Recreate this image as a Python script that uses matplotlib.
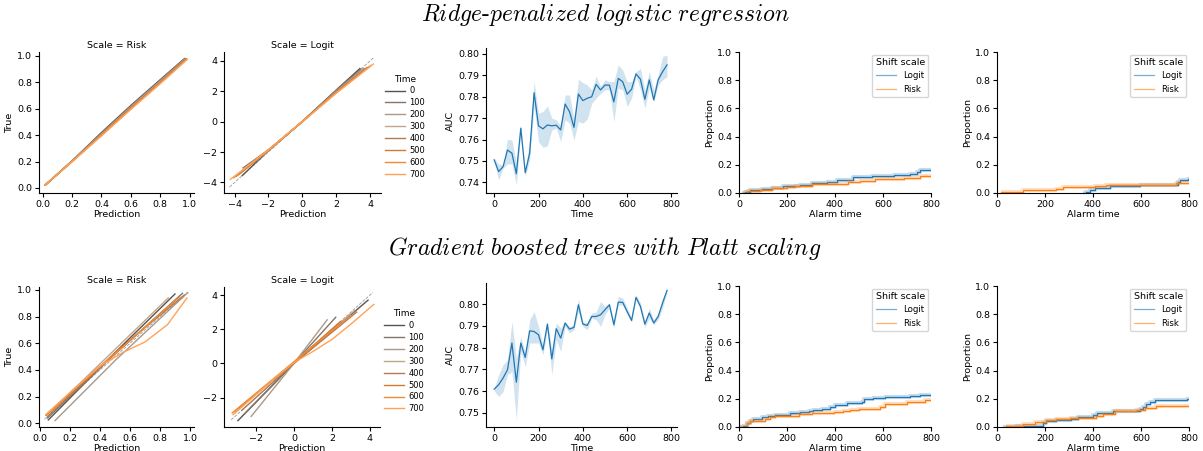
"""Calibration, AUC and alarm-time panels for two models, one row each."""

import matplotlib

matplotlib.use("Agg")
import matplotlib.pyplot as plt

plt.rcParams["font.family"] = ["DejaVu Sans"]
plt.rcParams["mathtext.fontset"] = "cm"
plt.rcParams["axes.linewidth"] = 0.8

W, H = 1203, 451

# ---- data -----------------------------------------------------------------
TIMES = ["0", "100", "200", "300", "400", "500", "600", "700"]
TIME_COLORS = ["#5a524c", "#857466", "#a8998a", "#c2a68c",
               "#b57a4e", "#cf7b36", "#f08a35", "#ffa257"]

# Ridge-penalized logistic regression: calibration curves (one list per time)
TOP_RISK_X = [
    [0.02, 0.2, 0.4, 0.6, 0.8, 0.965],
    [0.02, 0.2, 0.4, 0.6, 0.8, 0.97],
    [0.02, 0.2, 0.4, 0.6, 0.8, 0.97],
    [0.02, 0.2, 0.4, 0.6, 0.8, 0.975],
    [0.02, 0.2, 0.4, 0.6, 0.8, 0.975],
    [0.015, 0.2, 0.4, 0.6, 0.8, 0.98],
    [0.015, 0.2, 0.4, 0.6, 0.8, 0.98],
    [0.015, 0.2, 0.4, 0.6, 0.8, 0.985],
]
TOP_RISK_Y = [
    [0.025, 0.205, 0.42, 0.625, 0.82, 0.98],
    [0.025, 0.205, 0.415, 0.62, 0.815, 0.98],
    [0.025, 0.204, 0.41, 0.615, 0.81, 0.978],
    [0.024, 0.203, 0.405, 0.61, 0.805, 0.978],
    [0.024, 0.202, 0.402, 0.607, 0.8, 0.977],
    [0.022, 0.2, 0.4, 0.603, 0.797, 0.976],
    [0.022, 0.2, 0.398, 0.6, 0.793, 0.975],
    [0.022, 0.2, 0.395, 0.595, 0.79, 0.975],
]
TOP_LOGIT_X = [
    [-3.55, -2, 0, 2, 3.4],
    [-3.5, -2, 0, 2, 3.45],
    [-3.6, -2, 0, 2, 3.6],
    [-3.7, -2, 0, 2, 3.7],
    [-3.8, -2, 0, 2, 3.8],
    [-3.9, -2, 0, 2, 3.9],
    [-4.05, -2, 0, 2, 4.05],
    [-4.25, -2, 0, 2, 4.2],
]
TOP_LOGIT_Y = [
    [-3.55, -1.9, 0.02, 2.08, 3.5],
    [-3.05, -1.85, 0.0, 2.05, 3.45],
    [-3.3, -1.9, 0.0, 2.0, 3.5],
    [-3.45, -1.9, 0.0, 1.98, 3.5],
    [-3.5, -1.88, 0.0, 1.95, 3.55],
    [-3.6, -1.87, 0.0, 1.92, 3.6],
    [-3.7, -1.86, 0.0, 1.9, 3.7],
    [-3.8, -1.85, 0.0, 1.87, 3.8],
]

# Gradient boosted trees with Platt scaling: calibration curves
BOT_RISK_X = [
    [0.055, 0.5, 0.9],
    [0.05, 0.5, 0.95],
    [0.10, 0.5, 0.985],
    [0.045, 0.45, 0.855],
    [0.05, 0.5, 0.96],
    [0.04, 0.5, 0.93],
    [0.04, 0.3, 0.6, 0.91],
    [0.04, 0.2, 0.4, 0.55, 0.7, 0.85, 0.98],
]
BOT_RISK_Y = [
    [0.025, 0.53, 0.97],
    [0.04, 0.52, 0.975],
    [0.02, 0.47, 0.98],
    [0.06, 0.5, 0.94],
    [0.05, 0.53, 0.96],
    [0.06, 0.52, 0.95],
    [0.065, 0.33, 0.62, 0.93],
    [0.065, 0.23, 0.43, 0.53, 0.61, 0.74, 0.94],
]
BOT_LOGIT_X = [
    [-2.95, 0, 3.9],
    [-2.6, 0, 2.2],
    [-2.25, 0, 1.75],
    [-3.1, 0, 3.2],
    [-2.75, 0, 3.3],
    [-2.9, 0, 2.45],
    [-3.25, 0, 3.0],
    [-3.2, -1, 0, 1, 2, 3, 4.2],
]
BOT_LOGIT_Y = [
    [-3.35, 0.0, 3.7],
    [-2.95, 0.0, 2.7],
    [-3.1, 0.0, 2.55],
    [-2.85, 0.05, 3.1],
    [-2.75, 0.0, 3.0],
    [-2.6, 0.05, 2.45],
    [-2.9, 0.1, 2.8],
    [-3.0, -0.85, 0.05, 0.7, 1.4, 2.3, 3.45],
]

AUC_TIME = [0, 20, 40, 60, 80, 100, 120, 140, 160, 180, 200, 220, 240, 260,
            280, 300, 320, 340, 360, 380, 400, 420, 440, 460, 480, 500, 520,
            540, 560, 580, 600, 620, 640, 660, 680, 700, 720, 740, 760, 780]
TOP_AUC = [0.7505, 0.745, 0.7473, 0.7551, 0.7536, 0.744, 0.7653, 0.7445,
           0.7536, 0.7819, 0.7664, 0.765, 0.7668, 0.7664, 0.7667, 0.7645,
           0.7766, 0.773, 0.7657, 0.7813, 0.7782, 0.7793, 0.780, 0.7858,
           0.7832, 0.7855, 0.7854, 0.7776, 0.7886, 0.787, 0.7812, 0.7835,
           0.7907, 0.7882, 0.7788, 0.7879, 0.7785, 0.7879, 0.7917, 0.7949]
TOP_AUC_LO = [0.7497, 0.7411, 0.7466, 0.7486, 0.7486, 0.7388, 0.7637, 0.7427,
              0.7505, 0.7754, 0.759, 0.7564, 0.757, 0.7645, 0.7653, 0.759,
              0.7692, 0.7676, 0.7598, 0.7684, 0.7676, 0.7695, 0.7769, 0.7793,
              0.7816, 0.7832, 0.7832, 0.7684, 0.784, 0.7832, 0.7754, 0.7793,
              0.7894, 0.7832, 0.7746, 0.784, 0.7777, 0.7855, 0.7879, 0.7894]
TOP_AUC_HI = [0.7512, 0.7486, 0.7481, 0.7601, 0.7598, 0.7489, 0.7668, 0.7458,
              0.7598, 0.7871, 0.7723, 0.7731, 0.7757, 0.770, 0.7692, 0.7664,
              0.7808, 0.7808, 0.770, 0.7882, 0.7866, 0.7855, 0.7832, 0.7897,
              0.7847, 0.7879, 0.7871, 0.7871, 0.7949, 0.7925, 0.7871, 0.7871,
              0.7917, 0.7933, 0.7832, 0.7917, 0.7832, 0.7902, 0.7988, 0.7995]
BOT_AUC = [0.7609, 0.7629, 0.766, 0.7698, 0.7821, 0.7641, 0.7821, 0.7755,
           0.7877, 0.7874, 0.7859, 0.779, 0.7908, 0.7748, 0.7887, 0.7844,
           0.7913, 0.7885, 0.7893, 0.7997, 0.7908, 0.7902, 0.7943, 0.7943,
           0.7951, 0.7974, 0.7997, 0.7905, 0.8009, 0.8008, 0.7966, 0.7925,
           0.8031, 0.7989, 0.7908, 0.7959, 0.7913, 0.7943, 0.8005, 0.8063]
BOT_AUC_LO = [0.7601, 0.7575, 0.7598, 0.7675, 0.769, 0.7468, 0.7782, 0.7713,
              0.7821, 0.7821, 0.7821, 0.7767, 0.7882, 0.7675, 0.7836, 0.7782,
              0.7897, 0.7867, 0.7882, 0.7966, 0.7897, 0.7882, 0.7936, 0.7928,
              0.7897, 0.7951, 0.7982, 0.789, 0.7997, 0.7994, 0.7951, 0.7917,
              0.802, 0.7974, 0.7893, 0.7936, 0.7905, 0.7928, 0.7982, 0.8055]
BOT_AUC_HI = [0.7614, 0.7675, 0.7721, 0.7744, 0.792, 0.7752, 0.7851, 0.7775,
              0.7928, 0.7966, 0.7897, 0.7813, 0.792, 0.779, 0.7913, 0.789,
              0.792, 0.7897, 0.7905, 0.8025, 0.792, 0.7913, 0.7959, 0.7963,
              0.8012, 0.7989, 0.8005, 0.792, 0.8035, 0.8028, 0.7982, 0.7936,
              0.8043, 0.8005, 0.7923, 0.7982, 0.7928, 0.7959, 0.8028, 0.807]

# alarm-time step curves (time of step, proportion after the step)
TOP_A_LOGIT_T = [11, 25, 46, 95, 136, 185, 254, 303, 366, 407, 477, 553, 644, 714, 741, 755, 800]
TOP_A_LOGIT_P = [0.0, 0.01, 0.019, 0.026, 0.038, 0.047, 0.054, 0.071, 0.078, 0.09, 0.113, 0.12, 0.13, 0.137, 0.149, 0.161, 0.161]
TOP_A_RISK_T = [18, 32, 88, 136, 199, 234, 303, 407, 456, 505, 567, 686, 755, 800]
TOP_A_RISK_P = [0.0, 0.014, 0.019, 0.035, 0.043, 0.052, 0.061, 0.066, 0.076, 0.085, 0.097, 0.109, 0.123, 0.123]
TOP_B_LOGIT_T = [358, 372, 386, 407, 469, 594, 754, 761, 796, 800]
TOP_B_LOGIT_P = [0.0, 0.01, 0.019, 0.035, 0.05, 0.06, 0.075, 0.09, 0.10, 0.10]
TOP_B_RISK_T = [18, 108, 247, 275, 407, 455, 747, 800]
TOP_B_RISK_P = [0.01, 0.02, 0.03, 0.045, 0.05, 0.06, 0.07, 0.07]

BOT_A_LOGIT_T = [4, 18, 32, 46, 60, 95, 122, 150, 213, 255, 290, 310, 345, 380, 400, 450, 512, 519, 560, 610, 714, 755, 800]
BOT_A_LOGIT_P = [0.0, 0.007, 0.03, 0.043, 0.057, 0.069, 0.081, 0.088, 0.10, 0.107, 0.114, 0.121, 0.126, 0.143, 0.157, 0.167, 0.179, 0.2, 0.207, 0.214, 0.221, 0.229, 0.231]
BOT_A_RISK_T = [4, 35, 46, 108, 130, 150, 206, 248, 303, 394, 435, 463, 498, 588, 610, 700, 776, 800]
BOT_A_RISK_P = [0.0, 0.029, 0.04, 0.06, 0.071, 0.079, 0.081, 0.09, 0.10, 0.107, 0.114, 0.119, 0.131, 0.143, 0.16, 0.179, 0.188, 0.188]
BOT_B_LOGIT_T = [25, 80, 191, 205, 247, 310, 337, 400, 417, 483, 594, 608, 622, 636, 657, 790, 800]
BOT_B_LOGIT_P = [0.0, 0.01, 0.031, 0.043, 0.052, 0.06, 0.071, 0.083, 0.10, 0.114, 0.129, 0.14, 0.162, 0.179, 0.19, 0.202, 0.202]
BOT_B_RISK_T = [39, 108, 157, 205, 247, 303, 414, 442, 490, 580, 615, 664, 800]
BOT_B_RISK_P = [0.01, 0.019, 0.033, 0.052, 0.057, 0.067, 0.081, 0.095, 0.11, 0.119, 0.136, 0.15, 0.157]

BLUE = "#1f77b4"
ORANGE = "#ff7f0e"
LABEL_FS = 6.8
TICK_FS = 6.8


def _rect(left, top, right, bottom):
    return [left / W, 1 - bottom / H, (right - left) / W, (bottom - top) / H]


def _style(ax):
    for side in ("top", "right"):
        ax.spines[side].set_visible(False)
    ax.tick_params(labelsize=TICK_FS, length=3, width=0.8, pad=2)


def _draw_calibration(ax, xs, ys, title, diag, xlim, ylim, ticks_x, ticks_y, ylabel=None):
    ax.plot(diag, diag, color="0.6", linestyle="--", linewidth=0.6, zorder=1)
    for x, y, c in zip(xs, ys, TIME_COLORS):
        ax.plot(x, y, color=c, linewidth=1.0, zorder=2)
    ax.set_xlim(*xlim)
    ax.set_ylim(*ylim)
    ax.set_xticks(ticks_x)
    ax.set_yticks(ticks_y)
    ax.set_title(title, fontsize=LABEL_FS, pad=3)
    ax.set_xlabel("Prediction", fontsize=LABEL_FS, labelpad=1)
    if ylabel:
        ax.set_ylabel(ylabel, fontsize=LABEL_FS, labelpad=2)
    _style(ax)


def _time_legend(ax, y_anchor):
    handles = [plt.Line2D([], [], color=c, linewidth=1.0) for c in TIME_COLORS]
    ax.legend(handles, TIMES, title="Time", loc="center left",
              bbox_to_anchor=(0.98, y_anchor), frameon=False, fontsize=6,
              title_fontsize=6.5, handlelength=2.3, labelspacing=0.35,
              handletextpad=0.6)


def _draw_auc(ax, auc, lo, hi, ylim):
    ax.fill_between(AUC_TIME, lo, hi, color=BLUE, alpha=0.2, linewidth=0)
    ax.plot(AUC_TIME, auc, color=BLUE, linewidth=0.9)
    ax.set_xlim(-37, 825)
    ax.set_ylim(*ylim)
    ax.set_xticks([0, 200, 400, 600, 800])
    ax.set_xlabel("Time", fontsize=LABEL_FS, labelpad=1)
    ax.set_ylabel("AUC", fontsize=LABEL_FS, labelpad=2)
    _style(ax)


def _draw_alarms(ax, logit_t, logit_p, risk_t, risk_p):
    for t, p, c, name in ((logit_t, logit_p, BLUE, "Logit"), (risk_t, risk_p, ORANGE, "Risk")):
        ax.step(t, p, where="post", color=c, linewidth=3, alpha=0.25, solid_capstyle="butt")
        ax.step(t, p, where="post", color=c, linewidth=0.9, label=name)
    ax.set_xlim(0, 800)
    ax.set_ylim(0, 1)
    ax.set_xticks([0, 200, 400, 600, 800])
    ax.set_yticks([0.0, 0.2, 0.4, 0.6, 0.8, 1.0])
    ax.set_xlabel("Alarm time", fontsize=LABEL_FS, labelpad=1)
    ax.set_ylabel("Proportion", fontsize=LABEL_FS, labelpad=2)
    leg = ax.legend(title="Shift scale", loc="upper right", fontsize=6.2,
                    title_fontsize=6.8, handlelength=2.3, borderaxespad=0.3)
    for line in leg.get_lines():
        line.set_alpha(0.6)
    _style(ax)


fig = plt.figure(figsize=(W / 100, H / 100), dpi=100)

# top row
fig.text(0.503, 1 - 15 / H,
         r"$\mathit{Ridge}$-$\mathit{penalized\ logistic\ regression}$",
         ha="center", va="center", fontsize=17, family="cmr10")
ax = fig.add_axes(_rect(39, 52, 194, 193))
_draw_calibration(ax, TOP_RISK_X, TOP_RISK_Y, "Scale = Risk", [0.02, 0.98],
                  (-0.025, 1.03), (-0.038, 1.03),
                  [0, 0.2, 0.4, 0.6, 0.8, 1.0], [0, 0.2, 0.4, 0.6, 0.8, 1.0], "True")
ax = fig.add_axes(_rect(224, 52, 381, 193))
_draw_calibration(ax, TOP_LOGIT_X, TOP_LOGIT_Y, "Scale = Logit", [-4.3, 4.2],
                  (-4.63, 4.65), (-4.7, 4.59), [-4, -2, 0, 2, 4], [-4, -2, 0, 2, 4])
_time_legend(ax, 0.47)
ax = fig.add_axes(_rect(486, 48, 677, 193))
_draw_auc(ax, TOP_AUC, TOP_AUC_LO, TOP_AUC_HI, (0.735, 0.8028))
ax = fig.add_axes(_rect(739, 52, 931, 193))
_draw_alarms(ax, TOP_A_LOGIT_T, TOP_A_LOGIT_P, TOP_A_RISK_T, TOP_A_RISK_P)
ax = fig.add_axes(_rect(997, 52, 1189, 193))
_draw_alarms(ax, TOP_B_LOGIT_T, TOP_B_LOGIT_P, TOP_B_RISK_T, TOP_B_RISK_P)

# bottom row
fig.text(0.503, 1 - 248 / H,
         r"$\mathit{Gradient\ boosted\ trees\ with\ Platt\ scaling}$",
         ha="center", va="center", fontsize=17)
ax = fig.add_axes(_rect(39, 287, 194, 427))
_draw_calibration(ax, BOT_RISK_X, BOT_RISK_Y, "Scale = Risk", [0.03, 0.98],
                  (-0.007, 1.027), (-0.028, 1.0225),
                  [0, 0.2, 0.4, 0.6, 0.8, 1.0], [0, 0.2, 0.4, 0.6, 0.8, 1.0], "True")
ax = fig.add_axes(_rect(224, 287, 380, 427))
_draw_calibration(ax, BOT_LOGIT_X, BOT_LOGIT_Y, "Scale = Logit", [-3.3, 4.15],
                  (-3.68, 4.53), (-3.72, 4.47), [-2, 0, 2, 4], [-2, 0, 2, 4])
_time_legend(ax, 0.47)
ax = fig.add_axes(_rect(486, 283, 677, 427))
_draw_auc(ax, BOT_AUC, BOT_AUC_LO, BOT_AUC_HI, (0.7435, 0.8097))
ax = fig.add_axes(_rect(739, 286, 931, 427))
_draw_alarms(ax, BOT_A_LOGIT_T, BOT_A_LOGIT_P, BOT_A_RISK_T, BOT_A_RISK_P)
ax = fig.add_axes(_rect(997, 286, 1189, 427))
_draw_alarms(ax, BOT_B_LOGIT_T, BOT_B_LOGIT_P, BOT_B_RISK_T, BOT_B_RISK_P)

fig.savefig("out.png", dpi=100)
